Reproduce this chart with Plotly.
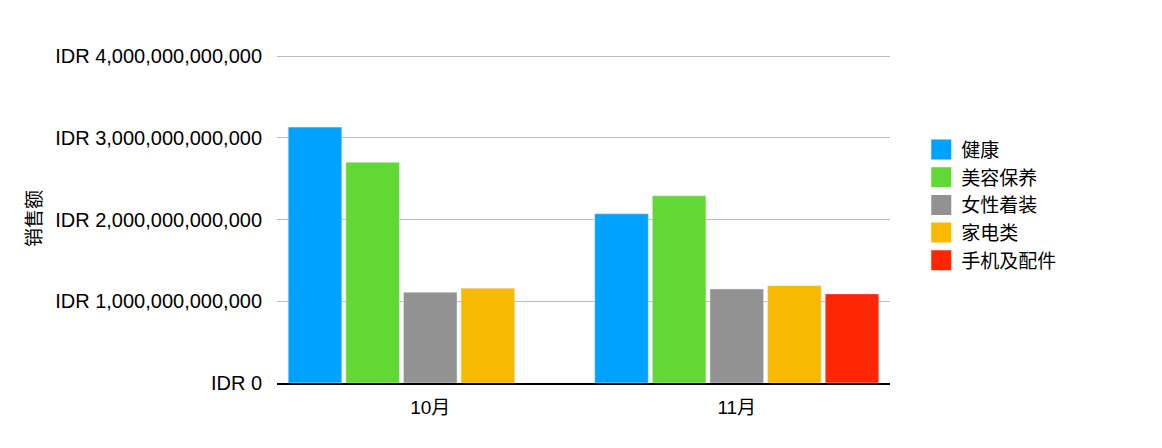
import plotly.graph_objects as go

months = ["10月", "11月"]
categories = ["健康", "美容保养", "女性着装", "家电类", "手机及配件"]
colors = ["#00A2FF", "#61D836", "#929292", "#F8BA00", "#FF2600"]

# sales per category, one value per month (None = no data)
health = [3.13e12, 2.07e12]
beauty = [2.70e12, 2.29e12]
womenswear = [1.11e12, 1.15e12]
appliances = [1.16e12, 1.19e12]
phones = [None, 1.09e12]
series = [health, beauty, womenswear, appliances, phones]

tick_vals = [0, 1e12, 2e12, 3e12, 4e12]
tick_text = ["IDR 0", "IDR 1,000,000,000,000", "IDR 2,000,000,000,000",
             "IDR 3,000,000,000,000", "IDR 4,000,000,000,000"]

font = "Liberation Sans, Noto Sans CJK SC, sans-serif"

fig = go.Figure()
for name, vals, color in zip(categories, series, colors):
    fig.add_trace(go.Bar(x=months, y=vals, name=name, marker_color=color,
                         showlegend=False))

# legend entries with bigger swatches
for i, (name, color) in enumerate(zip(categories, colors)):
    fig.add_trace(go.Scatter(
        x=[None], y=[None], mode="markers", name=name, legendgroup=str(i),
        marker=dict(symbol="square", size=16, color=color,
                    line=dict(width=4, color=color)),
    ))

fig.update_layout(
    width=1162,
    height=448,
    margin=dict(l=269, r=280, t=46, b=73),
    plot_bgcolor="white",
    paper_bgcolor="white",
    font=dict(family=font, size=20, color="#000000"),
    barmode="group",
    bargap=0.06,
    bargroupgap=0.07,
    legend=dict(
        x=1.051, y=0.767, xanchor="left", yanchor="top",
        traceorder="grouped", tracegroupgap=0,
        font=dict(size=19),
    ),
    annotations=[dict(
        text="销售额", textangle=-90, xref="paper", yref="paper",
        x=-0.416, y=0.5, showarrow=False, font=dict(size=19),
    )],
)
fig.update_xaxes(
    showline=True, linecolor="#000000", linewidth=1.5,
    ticks="outside", ticklen=6, tickcolor="rgba(0,0,0,0)",
    tickfont=dict(size=19),
)
fig.update_yaxes(
    range=[0, 4.0245e12], tickvals=tick_vals, ticktext=tick_text,
    showgrid=True, gridcolor="#BBBBBB", gridwidth=1, zeroline=False,
    ticks="outside", ticklen=10, tickcolor="rgba(0,0,0,0)",
    tickfont=dict(size=20),
)

fig.write_html("out.html")
